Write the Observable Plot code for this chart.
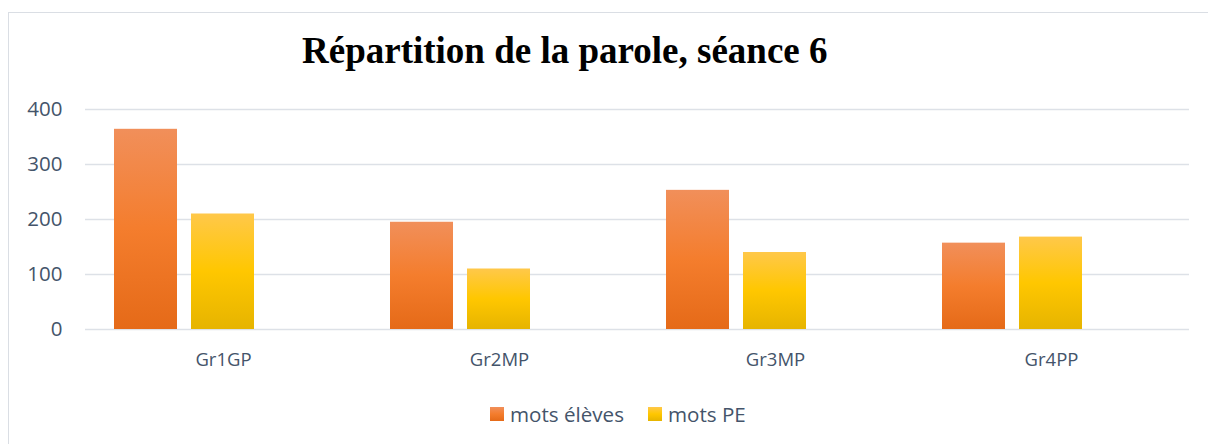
<!DOCTYPE html>
<html>
<head>
<meta charset="utf-8">
<script src="https://cdn.jsdelivr.net/npm/d3@7"></script>
<script src="https://cdn.jsdelivr.net/npm/@observablehq/plot@0.6"></script>
<style>
  html, body { margin: 0; padding: 0; background: #fff; }
  #wrap { position: relative; width: 1208px; height: 444px; overflow: hidden; background: #fff; }
  #frame { position: absolute; left: 8px; top: 12px; width: 1300px; height: 500px;
           border-left: 1.5px solid #dadee4; border-top: 1.5px solid #dadee4; }
  #title { position: absolute; left: 302px; top: 32px; font-family: "Liberation Serif", "Times New Roman", serif;
           font-weight: bold; font-size: 37px; line-height: 1; color: #000; white-space: nowrap; }
  #chart { position: absolute; left: 0; top: 90px; }
  #legend { position: absolute; left: 490px; top: 400px; display: flex; align-items: center;
            font-family: "Open Sans", sans-serif; font-size: 20.6px; color: #44546a; }
  .item { display: flex; align-items: center; margin-right: 24px; }
  .sw { width: 14px; height: 14px; margin-right: 6px; }
</style>
</head>
<body>
<div id="wrap">
  <div id="frame"></div>
  <div id="title">Répartition de la parole, séance 6</div>
  <div id="chart"></div>
  <div id="legend"></div>
</div>
<script>
const categories = ["Gr1GP", "Gr2MP", "Gr3MP", "Gr4PP"];
const series = ["mots élèves", "mots PE"];
const motsEleves = [364, 195, 253, 157];
const motsPE = [210, 110, 140, 168];
const yTicks = [0, 100, 200, 300, 400];

const gradients = {
  "mots élèves": ["#f18f5a", "#f47d2d", "#e56a18"],
  "mots PE": ["#ffc84a", "#ffc700", "#e6b400"]
};
const gradIds = {"mots élèves": "gradO", "mots PE": "gradY"};

const data = categories.flatMap((c, i) => [
  {cat: c, series: series[0], value: motsEleves[i]},
  {cat: c, series: series[1], value: motsPE[i]}
]);

const chart = Plot.plot({
  width: 1208,
  height: 295,
  marginLeft: 85,
  marginRight: 19,
  marginTop: 19,
  marginBottom: 56,
  style: {fontFamily: "Open Sans, sans-serif", color: "#44546a", background: "transparent", overflow: "visible"},
  fx: {domain: categories, padding: 0, label: null},
  x: {domain: [...series, "_"], paddingInner: 0.1818, paddingOuter: 0.383, axis: null},
  y: {domain: [0, 400], label: null},
  color: {domain: series, range: series.map(s => `url(#${gradIds[s]})`)},
  marks: [
    Plot.gridY(yTicks, {stroke: "#dde1e7", strokeOpacity: 1, strokeWidth: 1.6}),
    Plot.barY(data, {fx: "cat", x: "series", y: "value", fill: "series"}),
    Plot.axisY(yTicks, {tickSize: 0, tickPadding: 23, fontSize: 20.5, label: null}),
    Plot.axisFx({anchor: "bottom", tickSize: 0, tickPadding: 23, fontSize: 18.5, label: null})
  ]
});

const defs = d3.select(chart).insert("defs", ":first-child");
for (const s of series) {
  const g = defs.append("linearGradient").attr("id", gradIds[s]).attr("x1", 0).attr("y1", 0).attr("x2", 0).attr("y2", 1);
  gradients[s].forEach((c, i) => g.append("stop").attr("offset", `${i * 50}%`).attr("stop-color", c));
}
document.getElementById("chart").appendChild(chart);

const legend = document.getElementById("legend");
for (const s of series) {
  const [a, b, c] = gradients[s];
  const item = document.createElement("div");
  item.className = "item";
  item.innerHTML = `<div class="sw" style="background:linear-gradient(${a},${b},${c})"></div><span>${s}</span>`;
  legend.appendChild(item);
}
</script>
</body>
</html>
